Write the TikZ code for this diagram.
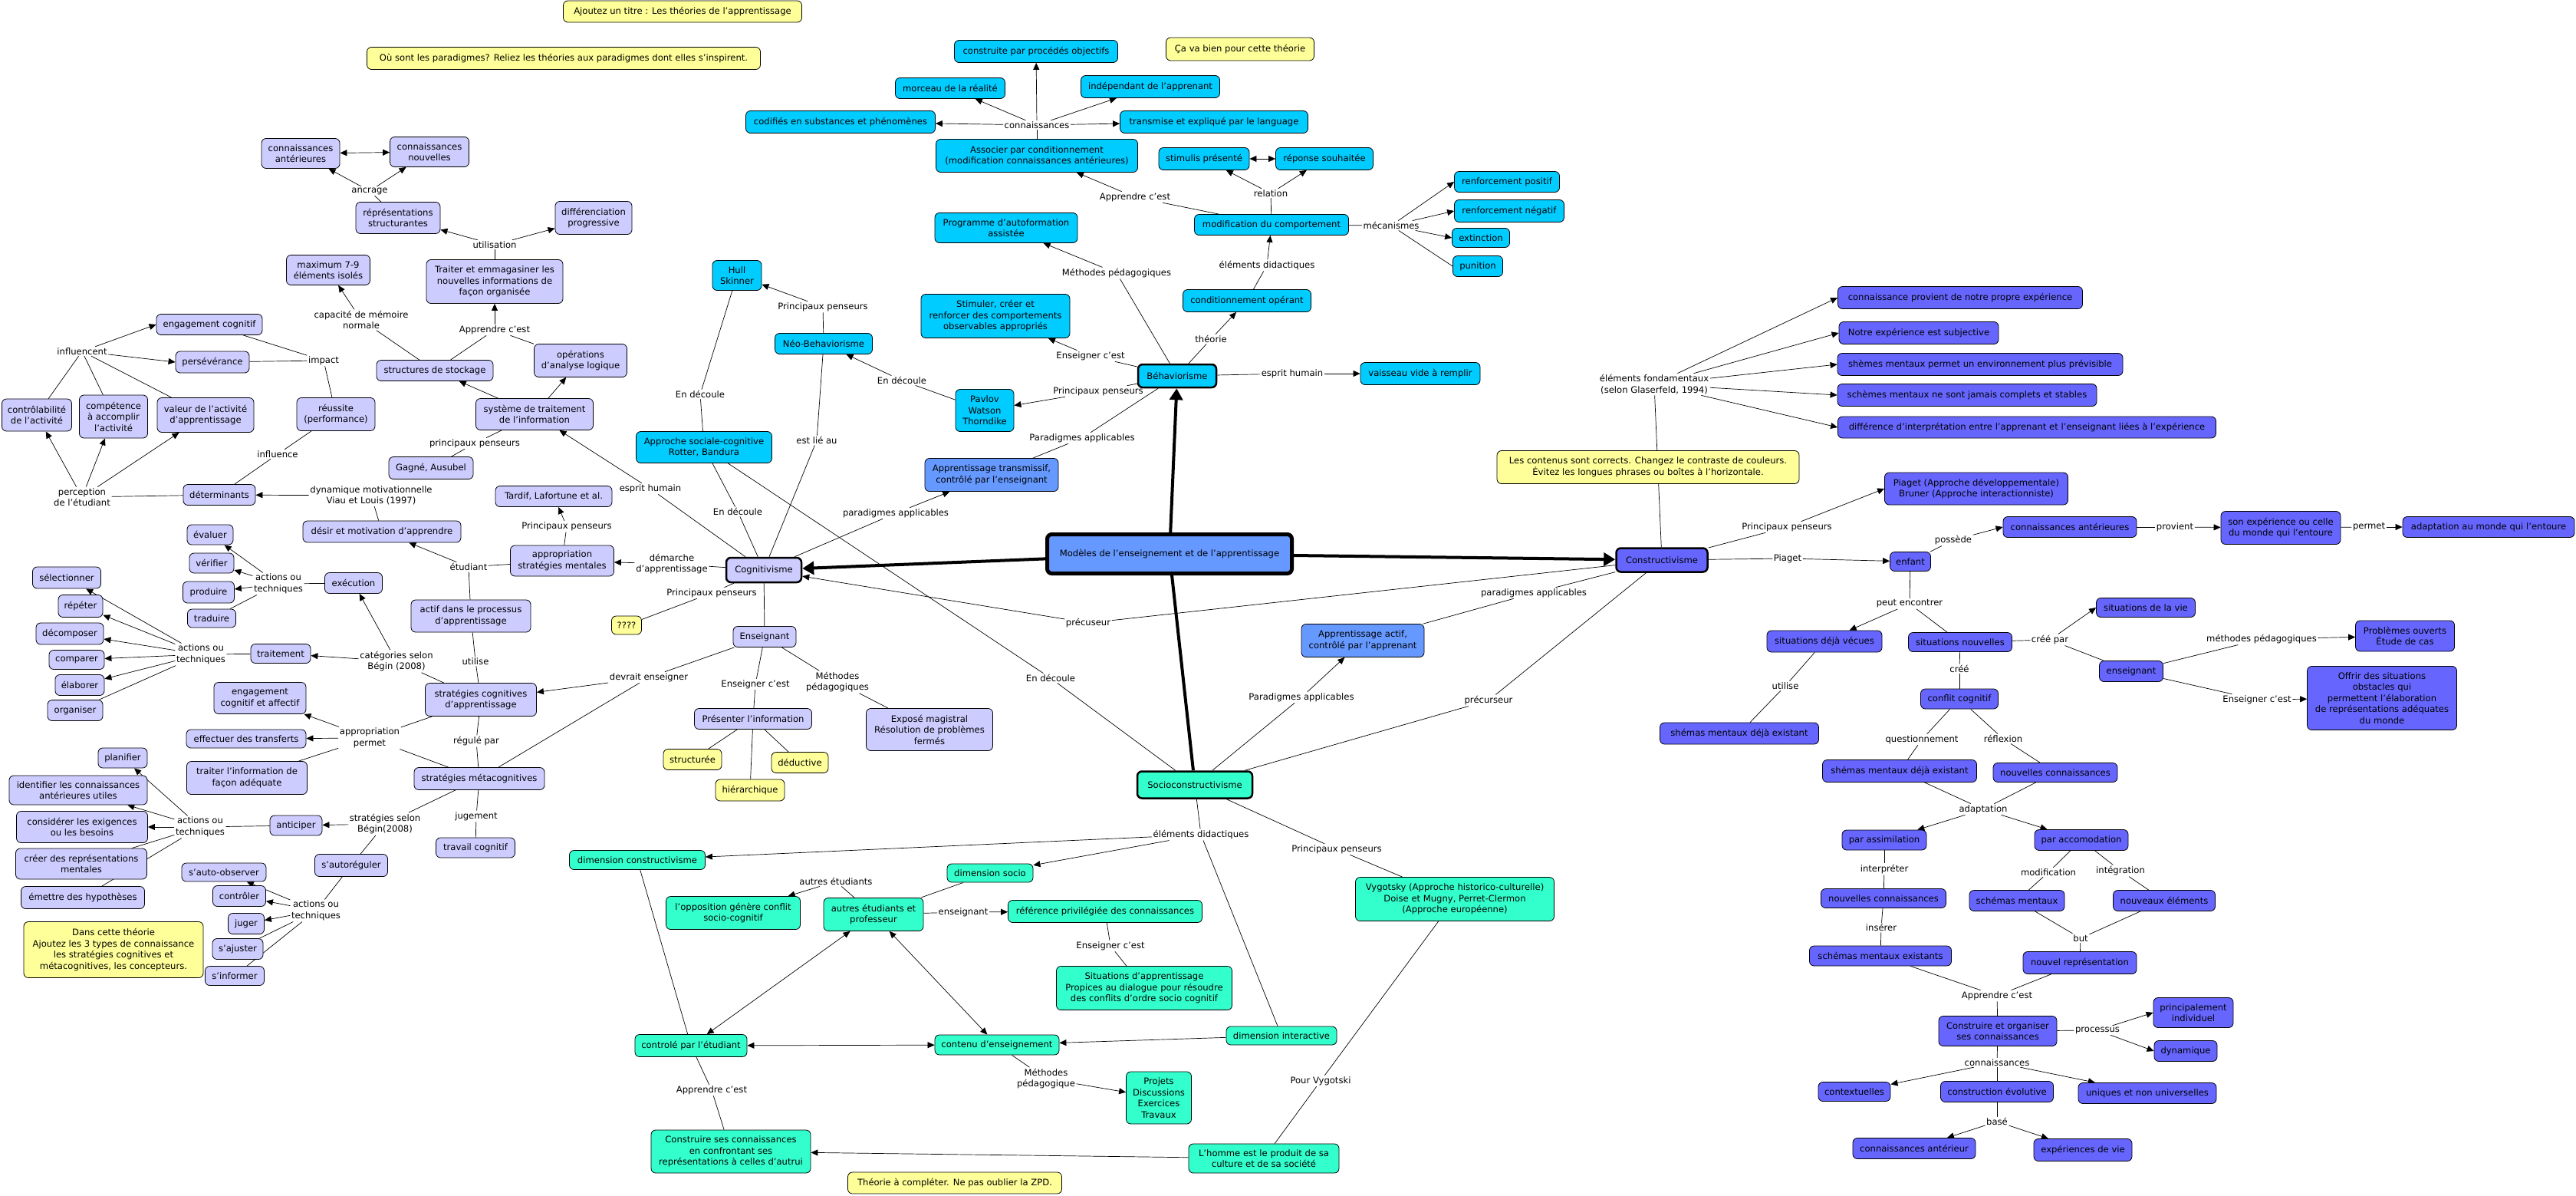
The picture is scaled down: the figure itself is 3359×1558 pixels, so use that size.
\documentclass[tikz,border=0pt]{standalone}
\usepackage{fontspec}
\setmainfont{DejaVu Sans}
\usetikzlibrary{arrows.meta}
\definecolor{cogc}{RGB}{204,204,255}
\definecolor{behc}{RGB}{0,204,255}
\definecolor{conc}{RGB}{102,102,255}
\definecolor{socc}{RGB}{51,255,204}
\definecolor{parc}{RGB}{102,153,255}
\definecolor{notec}{RGB}{255,255,153}
\pgfdeclarelayer{bg}
\pgfsetlayers{bg,main}
\newcommand\fs{\fontsize{11.6}{14.5}\selectfont}
\tikzset{
  cbox/.style={draw=black, line width=0.8pt, rounded corners=6pt, align=center, inner xsep=3pt, inner ysep=2pt, font=\fs, text=black},
  cog/.style={cbox, fill=cogc},
  beh/.style={cbox, fill=behc},
  con/.style={cbox, fill=conc},
  soc/.style={cbox, fill=socc},
  par/.style={cbox, fill=parc},
  yel/.style={cbox, fill=notec},
  thk/.style={line width=2.5pt},
  lbs/.style={font=\fs, inner sep=1.5pt, align=center, text=black},
  lk/.style={line width=0.7pt, draw=black},
  ak/.style={lk, -{Triangle[length=9pt,width=8pt]}},
  dk/.style={lk, {Triangle[length=9pt,width=8pt]}-{Triangle[length=9pt,width=8pt]}},
  bigar/.style={line width=4pt, draw=black, -{Triangle[length=15pt,width=17pt]}},
  bigln/.style={line width=4pt, draw=black},
}
\newcommand\bx[6]{\node[#1,minimum width=#5pt,minimum height=#6pt] (#2) at (#3) {#4};}
\newcommand\lab[3]{\node[lbs] (#1) at (#2) {#3};}
\begin{document}
\begin{tikzpicture}[x=1pt,y=-1pt]
\useasboundingbox (0,0) rectangle (3359,1558);
% ---------- notes ----------
\bx{yel}{n1}{890,15}{Ajoutez un titre : Les théories de l'apprentissage}{311}{28}
\bx{yel}{n2}{735,76}{Où sont les paradigmes? Reliez les théories aux paradigmes dont elles s'inspirent.}{513}{29}
\bx{yel}{n3}{1617,64}{Ça va bien pour cette théorie}{193}{30}
\bx{yel}{n4}{2149,609}{Les contenus sont corrects. Changez le contraste de couleurs.\\Évitez les longues phrases ou boîtes à l'horizontale.}{394}{43}
\bx{yel}{n5}{148,1238}{Dans cette théorie\\Ajoutez les 3 types de connaissance\\les stratégies cognitives et\\métacognitives, les concepteurs.}{234}{73}
\bx{yel}{n6}{1245,1542}{Théorie à compléter. Ne pas oublier la ZPD.}{279}{28}
\bx{yel}{n7}{817,815}{????}{39}{24}
\bx{yel}{nstr}{903,990}{structurée}{76}{27}
\bx{yel}{nded}{1043,994}{déductive}{74}{27}
\bx{yel}{nhie}{978,1030}{hiérarchique}{90}{28}
% ---------- main ----------
\bx{par,line width=5pt}{M}{1525,722}{Modèles de l'enseignement et de l'apprentissage}{319}{51}
\bx{par}{ptrans}{1293,619}{Apprentissage transmissif,\\contrôlé par l'enseignant}{174}{43}
\bx{par}{pactif}{1777,835}{Apprentissage actif,\\contrôlé par l'apprenant}{160}{43}
% ---------- behaviorisme ----------
\bx{beh,thk}{B}{1535,490}{Béhaviorisme}{102}{30}
\bx{beh}{bconstr}{1351,67}{construite par procédés objectifs}{213}{29}
\bx{beh}{bmorc}{1239,115}{morceau de la réalité}{143}{27}
\bx{beh}{bindep}{1500,113}{indépendant de l'apprenant}{181}{29}
\bx{beh}{bcodif}{1096,159}{codifiés en substances et phénomènes}{247}{29}
\bx{beh}{btrans}{1583,159}{transmise et expliqué par le language}{245}{29}
\bx{beh}{bassoc}{1352,203}{Associer par conditionnement\\(modification connaissances antérieures)}{263}{43}
\bx{beh}{bstim}{1570,207}{stimulis présenté}{118}{29}
\bx{beh}{brep}{1727,207}{réponse souhaitée}{127}{29}
\bx{beh}{bprog}{1312,297}{Programme d'autoformation\\assistée}{186}{39}
\bx{beh}{bmodif}{1658,293}{modification du comportement}{201}{27}
\bx{beh}{brpos}{1965,237}{renforcement positif}{137}{27}
\bx{beh}{brneg}{1968,275}{renforcement négatif}{143}{29}
\bx{beh}{bext}{1931,310}{extinction}{75}{25}
\bx{beh}{bpun}{1927,347}{punition}{65}{27}
\bx{beh}{bhull}{961,359}{Hull\\Skinner}{64}{39}
\bx{beh}{bcond}{1626,392}{conditionnement opérant}{167}{29}
\bx{beh}{bstimul}{1298,412}{Stimuler, créer et\\renforcer des comportements\\observables appropriés}{194}{57}
\bx{beh}{bneo}{1074,448}{Néo-Behaviorisme}{127}{27}
\bx{beh}{bvais}{1852,487}{vaisseau vide à remplir}{156}{29}
\bx{beh}{bpav}{1284,535}{Pavlov\\Watson\\Thorndike}{76}{55}
\bx{beh}{bappr}{918,583}{Approche sociale-cognitive\\Rotter, Bandura}{177}{41}
\lab{lconn}{1352,163}{connaissances}
\lab{lrel}{1657,252}{relation}
\lab{lappb}{1480,257}{Apprendre c'est}
\lab{lmec}{1814,294}{mécanismes}
\lab{lmethb}{1456,356}{Méthodes pédagogiques}
\lab{leldid}{1652,346}{éléments didactiques}
\lab{lppneo}{1073,400}{Principaux penseurs}
\lab{ltheor}{1579,442}{théorie}
\lab{lensb}{1422,464}{Enseigner c'est}
\lab{lesphb}{1685,487}{esprit humain}
\lab{ledneo}{1176,496}{En découle}
\lab{ledhull}{913,514}{En découle}
\lab{lppb}{1432,510}{Principaux penseurs}
\lab{lparb}{1411,571}{Paradigmes applicables}
% ---------- cognitivisme ----------
\bx{cog,thk}{C}{996,743}{Cognitivisme}{98}{32}
\bx{cog}{cca}{392,200}{connaissances\\antérieures}{102}{39}
\bx{cog}{ccn}{560,198}{connaissances\\nouvelles}{103}{39}
\bx{cog}{crs}{519,284}{réprésentations\\structurantes}{110}{41}
\bx{cog}{cdp}{774,284}{différenciation\\progressive}{100}{43}
\bx{cog}{ctr}{645,367}{Traiter et emmagasiner les\\nouvelles informations de\\façon organisée}{178}{57}
\bx{cog}{cmax}{428,352}{maximum 7-9\\éléments isolés}{109}{39}
\bx{cog}{ceng}{273,423}{engagement cognitif}{138}{27}
\bx{cog}{cpers}{277,472}{persévérance}{96}{28}
\bx{cog}{cstock}{567,483}{structures de stockage}{152}{27}
\bx{cog}{coper}{757,470}{opérations\\d'analyse logique}{121}{43}
\bx{cog}{cctrl}{48,541}{contrôlabilité\\de l'activité}{91}{42}
\bx{cog}{ccomp}{148,543}{compétence\\à accomplir\\l'activité}{89}{56}
\bx{cog}{cval}{268,541}{valeur de l'activité\\d'apprentissage}{126}{45}
\bx{cog}{creus}{438,540}{réussite\\(performance)}{102}{43}
\bx{cog}{csys}{697,540}{système de traitement\\de l'information}{153}{41}
\bx{cog}{cgag}{562,610}{Gagné, Ausubel}{110}{29}
\bx{cog}{cdet}{286,645}{déterminants}{94}{27}
\bx{cog}{ctard}{722,647}{Tardif, Lafortune et al.}{152}{27}
\bx{cog}{cdes}{498,693}{désir et motivation d'apprendre}{206}{28}
\bx{cog}{ceval}{274,697}{évaluer}{60}{26}
\bx{cog}{cappr}{733,731}{appropriation\\stratégies mentales}{135}{40}
\bx{cog}{cver}{276,734}{vérifier}{58}{26}
\bx{cog}{csel}{87,753}{sélectionner}{89}{28}
\bx{cog}{cexec}{461,760}{exécution}{75}{27}
\bx{cog}{cprod}{272,772}{produire}{67}{28}
\bx{cog}{crep}{105,790}{répéter}{58}{29}
\bx{cog}{cactif}{614,803}{actif dans le processus\\d'apprentissage}{156}{42}
\bx{cog}{ctrad}{276,806}{traduire}{63}{24}
\bx{cog}{cdec}{91,826}{décomposer}{88}{28}
\bx{cog}{ctrait}{366,852}{traitement}{78}{25}
\bx{cog}{ccmp}{100,860}{comparer}{72}{25}
\bx{cog}{celab}{104,893}{élaborer}{64}{27}
\bx{cog}{cengaf}{339,910}{engagement\\cognitif et affectif}{120}{41}
\bx{cog}{cstrc}{627,912}{stratégies cognitives\\d'apprentissage}{145}{43}
\bx{cog}{corg}{98,926}{organiser}{72}{27}
\bx{cog}{ceff}{321,963}{effectuer des transferts}{156}{24}
\bx{cog}{cplan}{160,988}{planifier}{64}{26}
\bx{cog}{ctrinf}{322,1014}{traiter l'information de\\façon adéquate}{157}{43}
\bx{cog}{cstrm}{625,1015}{stratégies métacognitives}{170}{29}
\bx{cog}{cident}{102,1030}{identifier les connaissances\\antérieures utiles}{180}{38}
\bx{cog}{ccons}{107,1078}{considérer les exigences\\ou les besoins}{171}{41}
\bx{cog}{canti}{386,1076}{anticiper}{68}{26}
\bx{cog}{ctrav}{620,1105}{travail cognitif}{103}{26}
\bx{cog}{ccrer}{106,1126}{créer des représentations\\mentales}{171}{40}
\bx{cog}{cautor}{458,1128}{s'autoréguler}{95}{29}
\bx{cog}{cobs}{292,1137}{s'auto-observer}{110}{24}
\bx{cog}{cemet}{108,1170}{émettre des hypothèses}{161}{29}
\bx{cog}{cctl}{312,1168}{contrôler}{69}{27}
\bx{cog}{cjug}{321,1204}{juger}{47}{27}
\bx{cog}{caj}{310,1237}{s'ajuster}{66}{27}
\bx{cog}{cinf}{306,1272}{s'informer}{77}{25}
\bx{cog}{cens}{997,830}{Enseignant}{82}{27}
\bx{cog}{cpres}{982,937}{Présenter l'information}{153}{27}
\bx{cog}{cexpo}{1212,951}{Exposé magistral\\Résolution de problèmes\\fermés}{165}{55}
\lab{lancr}{482,249}{ancrage}
\lab{lutil}{645,319}{utilisation}
\lab{lcapa}{471,417}{capacité de mémoire\\normale}
\lab{lappc}{645,430}{Apprendre c'est}
\lab{linfl}{107,458}{influencent}
\lab{limp}{422,470}{impact}
\lab{linflu}{362,592}{influence}
\lab{lppc}{619,578}{principaux penseurs}
\lab{lestlie}{1065,574}{est lié au}
\lab{lperc}{107,648}{perception\\de l'étudiant}
\lab{ldyn}{484,646}{dynamique motivationnelle\\Viau et Louis (1997)}
\lab{lesphc}{848,637}{esprit humain}
\lab{ledc}{962,667}{En découle}
\lab{lparc}{1168,669}{paradigmes applicables}
\lab{lppt}{739,686}{Principaux penseurs}
\lab{letud}{611,739}{étudiant}
\lab{ldem}{876,735}{démarche\\d'apprentissage}
\lab{lppq}{928,773}{Principaux penseurs}
\lab{lact1}{363,761}{actions ou\\techniques}
\lab{lact2}{262,853}{actions ou\\techniques}
\lab{lcat}{517,862}{catégories selon\\Bégin  (2008)}
\lab{lutilise}{620,862}{utilise}
\lab{ldev}{846,883}{devrait enseigner}
\lab{ledsoc}{1370,884}{En découle}
\lab{lmethc}{1092,889}{Méthodes\\pédagogiques}
\lab{lensc}{985,892}{Enseigner c'est}
\lab{lappp}{482,962}{appropriation\\permet}
\lab{lreg}{621,966}{régulé par}
\lab{ljug}{621,1064}{jugement}
\lab{lstrat}{502,1074}{stratégies selon\\Bégin(2008)}
\lab{lact3}{261,1078}{actions ou\\techniques}
\lab{lact4}{412,1187}{actions ou\\techniques}
% ---------- constructivisme ----------
\bx{con,thk}{K}{2167,730}{Constructivisme}{119}{31}
\bx{con}{kprov}{2556,388}{connaissance provient de notre propre expérience}{319}{29}
\bx{con}{ksubj}{2502,434}{Notre expérience est subjective}{208}{29}
\bx{con}{kprev}{2582,475}{shèmes mentaux permet un environnement plus prévisible}{372}{29}
\bx{con}{kstab}{2565,515}{schèmes mentaux ne sont jamais complets et stables}{338}{29}
\bx{con}{kdiff}{2643,557}{différence d'interprétation entre l'apprenant et l'enseignant liées à l'expérience}{493}{28}
\bx{con}{kpiag}{2577,637}{Piaget (Approche développementale)\\Bruner (Approche interactionniste)}{239}{42}
\bx{con}{kenf}{2491,732}{enfant}{53}{25}
\bx{con}{kcant}{2699,687}{connaissances antérieures}{174}{27}
\bx{con}{ksonexp}{2974,688}{son expérience ou celle\\du monde qui l'entoure}{156}{43}
\bx{con}{kadapt}{3245,687}{adaptation au monde qui l'entoure}{224}{27}
\bx{con}{kvie}{2798,792}{situations de la vie}{129}{25}
\bx{con}{kprob}{3136,829}{Problèmes ouverts\\Étude de cas}{129}{40}
\bx{con}{kvec}{2379,836}{situations déjà vécues}{150}{28}
\bx{con}{knouv}{2556,837}{situations nouvelles}{135}{25}
\bx{con}{kens}{2779,875}{enseignant}{83}{27}
\bx{con}{koffr}{3106,910}{Offrir des situations\\obstacles qui\\permettent l'élaboration\\de représentations adéquates\\du monde}{195}{83}
\bx{con}{kconfl}{2555,911}{conflit cognitif}{101}{26}
\bx{con}{kshem1}{2268,956}{shémas mentaux déjà existant}{207}{28}
\bx{con}{kshem2}{2477,1005}{shémas mentaux déjà existant}{201}{29}
\bx{con}{knc}{2680,1007}{nouvelles connaissances}{162}{25}
\bx{con}{kassim}{2457,1095}{par assimilation}{110}{26}
\bx{con}{kaccom}{2714,1095}{par accomodation}{122}{27}
\bx{con}{knc2}{2456,1171}{nouvelles connaissances}{163}{25}
\bx{con}{ksm}{2630,1174}{schémas mentaux}{124}{27}
\bx{con}{kne}{2822,1174}{nouveaux éléments}{133}{27}
\bx{con}{ksme}{2452,1246}{schémas mentaux existants}{185}{26}
\bx{con}{knrep}{2712,1255}{nouvel représentation}{148}{29}
\bx{con}{kconstr}{2605,1344}{Construire et organiser\\ses connaissances}{154}{39}
\bx{con}{kindiv}{2860,1320}{principalement\\individuel}{104}{39}
\bx{con}{kdyn}{2850,1370}{dynamique}{82}{27}
\bx{con}{kctx}{2418,1423}{contextuelles}{94}{25}
\bx{con}{kevol}{2604,1423}{construction évolutive}{147}{27}
\bx{con}{kuniq}{2800,1425}{uniques et non universelles}{180}{27}
\bx{con}{kcantr}{2496,1497}{connaissances antérieur}{160}{27}
\bx{con}{kexp}{2716,1499}{expériences de vie}{128}{29}
\lab{lelf}{2157,501}{éléments fondamentaux\\(selon Glaserfeld, 1994)}
\lab{lppk}{2330,687}{Principaux penseurs}
\lab{lpiag}{2331,728}{Piaget}
\lab{lposse}{2547,704}{possède}
\lab{lprov}{2836,687}{provient}
\lab{lperm}{3089,687}{permet}
\lab{lpark}{2000,773}{paradigmes applicables}
\lab{lpeut}{2490,787}{peut encontrer}
\lab{lprec}{1419,812}{précuseur}
\lab{lcreepar}{2673,834}{créé par}
\lab{lmethk}{2949,833}{méthodes pédagogiques}
\lab{lcree}{2555,872}{créé}
\lab{lutilk}{2328,894}{utilise}
\lab{lparas}{1697,909}{Paradigmes applicables}
\lab{lensk}{2943,912}{Enseigner c'est}
\lab{lprecur}{1941,913}{précurseur}
\lab{lquest}{2506,964}{questionnement}
\lab{lrefl}{2612,963}{réflexion}
\lab{ladap}{2586,1055}{adaptation}
\lab{linterp}{2457,1133}{interpréter}
\lab{lmodif}{2671,1137}{modification}
\lab{linteg}{2765,1135}{intégration}
\lab{lins}{2453,1209}{insérer}
\lab{lbut}{2713,1223}{but}
\lab{lappk}{2604,1298}{Apprendre c'est}
\lab{lproc}{2735,1343}{processus}
\lab{lconnk}{2604,1385}{connaissances}
\lab{lbase}{2604,1462}{basé}
% ---------- socioconstructivisme ----------
\bx{soc,thk}{S}{1558,1023}{Socioconstructivisme}{150}{35}
\bx{soc}{sdimc}{831,1121}{dimension constructivisme}{177}{25}
\bx{soc}{sdims}{1291,1138}{dimension socio}{112}{24}
\bx{soc}{sopp}{956,1190}{l'opposition génère conflit\\socio-cognitif}{175}{43}
\bx{soc}{sautres}{1139,1192}{autres étudiants et\\professeur}{130}{43}
\bx{soc}{sref}{1441,1188}{référence privilégiée des connaissances}{253}{29}
\bx{soc}{svyg}{1897,1172}{Vygotsky (Approche historico-culturelle)\\Doise et Mugny, Perret-Clermon\\(Approche européenne)}{259}{57}
\bx{soc}{ssit}{1492,1288}{Situations d'apprentissage\\Propices au dialogue pour résoudre\\des conflits d'ordre socio cognitif}{229}{57}
\bx{soc}{sdimi}{1671,1350}{dimension interactive}{144}{24}
\bx{soc}{sctrl}{901,1363}{controlé par l'étudiant}{146}{29}
\bx{soc}{scont}{1300,1362}{contenu d'enseignement}{162}{26}
\bx{soc}{sproj}{1511,1431}{Projets\\Discussions\\Exercices\\Travaux}{85}{68}
\bx{soc}{sconstr}{953,1501}{Construire ses connaissances\\en confrontant ses\\représentations à celles d'autrui}{208}{56}
\bx{soc}{shomme}{1648,1510}{L'homme est le produit de sa\\culture et de sa société}{196}{38}
\lab{lelds}{1566,1088}{éléments didactiques}
\lab{lpps}{1743,1107}{Principaux penseurs}
\lab{lautr}{1090,1149}{autres étudiants}
\lab{lenss}{1256,1189}{enseignant}
\lab{lensc2}{1448,1233}{Enseigner c'est}
\lab{lmeths}{1364,1406}{Méthodes\\pédagogique}
\lab{lpourv}{1722,1409}{Pour Vygotski}
\lab{lapps}{928,1421}{Apprendre  c'est}
% ================= connectors =================
\begin{pgfonlayer}{bg}
\fill[white] (0,0) rectangle (3359,1558);
% main
\draw[bigar] (M) -- (C);
\draw[bigar] (M) -- (B);
\draw[bigar] (M) -- (K);
\draw[bigln] (M) -- (S);
% behaviorisme
\draw[lk] (B) -- (lensb); \draw[ak] (lensb) -- (bstimul);
\draw[lk] (B) -- (lmethb); \draw[ak] (lmethb) -- (bprog);
\draw[lk] (B) -- (ltheor); \draw[ak] (ltheor) -- (bcond);
\draw[lk] (bcond) -- (leldid); \draw[ak] (leldid) -- (bmodif);
\draw[lk] (bmodif) -- (lappb); \draw[ak] (lappb) -- (bassoc);
\draw[lk] (bmodif) -- (lrel); \draw[ak] (lrel) -- (bstim); \draw[ak] (lrel) -- (brep);
\draw[dk] (bstim) -- (brep);
\draw[lk] (bmodif) -- (lmec); \draw[ak] (lmec) -- (brpos.west); \draw[ak] (lmec) -- (brneg.west); \draw[ak] (lmec) -- (bext.west); \draw[lk] (lmec) -- (bpun.west);
\draw[lk] (bassoc) -- (lconn); \draw[ak] (lconn) -- (bconstr); \draw[ak] (lconn) -- (bmorc); \draw[ak] (lconn) -- (bindep); \draw[ak] (lconn) -- (bcodif); \draw[ak] (lconn) -- (btrans);
\draw[lk] (B) -- (lesphb); \draw[ak] (lesphb) -- (bvais);
\draw[lk] (B) -- (lppb); \draw[ak] (lppb) -- (bpav);
\draw[lk] (B) -- (lparb); \draw[lk] (lparb) -- (ptrans);
\draw[lk] (bpav) -- (ledneo); \draw[ak] (ledneo) -- (bneo);
\draw[lk] (bneo) -- (lppneo); \draw[ak] (lppneo) -- (bhull);
\draw[lk] (bneo) -- (lestlie); \draw[lk] (lestlie) -- (C);
\draw[lk] (bhull) -- (ledhull); \draw[lk] (ledhull) -- (bappr);
\draw[lk] (bappr) -- (ledc); \draw[lk] (ledc) -- (C);
\draw[lk] (bappr) -- (ledsoc); \draw[lk] (ledsoc) -- (S);
% cognitivisme
\draw[lk] (C) -- (lparc); \draw[ak] (lparc) -- (ptrans);
\draw[lk] (C) -- (lesphc); \draw[ak] (lesphc) -- (csys);
\draw[lk] (C) -- (ldem); \draw[ak] (ldem) -- (cappr);
\draw[lk] (C) -- (lppq); \draw[lk] (lppq) -- (n7);
\draw[lk] (C) -- (cens);
\draw[lk] (cens) -- (ldev); \draw[ak] (ldev) -- (cstrc); \draw[lk] (ldev) -- (cstrm);
\draw[lk] (cens) -- (lensc); \draw[lk] (lensc) -- (cpres);
\draw[lk] (cens) -- (lmethc); \draw[lk] (lmethc) -- (cexpo);
\draw[lk] (cpres) -- (nstr); \draw[lk] (cpres) -- (nhie); \draw[lk] (cpres) -- (nded);
\draw[ak] (csys) -- (cstock); \draw[ak] (csys) -- (coper);
\draw[lk] (cstock) -- (lappc); \draw[lk] (coper) -- (lappc); \draw[ak] (lappc) -- (ctr);
\draw[lk] (cstock) -- (lcapa); \draw[ak] (lcapa) -- (cmax);
\draw[lk] (ctr) -- (lutil); \draw[ak] (lutil) -- (crs); \draw[ak] (lutil) -- (cdp);
\draw[lk] (crs) -- (lancr); \draw[ak] (lancr) -- (cca); \draw[ak] (lancr) -- (ccn);
\draw[dk] (cca) -- (ccn);
\draw[lk] (csys) -- (lppc); \draw[lk] (lppc) -- (cgag);
\draw[lk] (cappr) -- (lppt); \draw[ak] (lppt) -- (ctard);
\draw[lk] (cappr) -- (letud); \draw[ak] (letud) -- (cdes); \draw[lk] (letud) -- (cactif);
\draw[lk] (cdes) -- (ldyn); \draw[ak] (ldyn) -- (cdet);
\draw[lk] (cdet) -- (linflu); \draw[lk] (linflu) -- (creus);
\draw[lk] (cdet) -- (lperc); \draw[ak] (lperc) -- (cctrl); \draw[ak] (lperc) -- (ccomp); \draw[ak] (lperc) -- (cval);
\draw[lk] (cctrl) -- (linfl); \draw[lk] (ccomp) -- (linfl); \draw[lk] (cval) -- (linfl);
\draw[ak] (linfl) -- (ceng.west); \draw[ak] (linfl) -- (cpers.west);
\draw[lk] (ceng) -- (limp); \draw[lk] (cpers) -- (limp); \draw[lk] (limp) -- (creus);
\draw[lk] (cactif) -- (lutilise); \draw[lk] (lutilise) -- (cstrc);
\draw[lk] (cstrc) -- (lcat); \draw[ak] (lcat) -- (cexec); \draw[ak] (lcat) -- (ctrait);
\draw[lk] (cexec) -- (lact1); \draw[ak] (lact1) -- (ceval); \draw[ak] (lact1) -- (cver); \draw[ak] (lact1) -- (cprod); \draw[lk] (lact1) -- (ctrad);
\draw[lk] (ctrait) -- (lact2); \draw[ak] (lact2) -- (csel); \draw[ak] (lact2) -- (crep); \draw[ak] (lact2) -- (cdec); \draw[ak] (lact2) -- (ccmp); \draw[ak] (lact2) -- (celab); \draw[lk] (lact2) -- (corg);
\draw[lk] (cstrc) -- (lappp); \draw[lk] (cstrm) -- (lappp); \draw[ak] (lappp) -- (cengaf); \draw[ak] (lappp) -- (ceff); \draw[lk] (lappp) -- (ctrinf);
\draw[lk] (cstrc) -- (lreg); \draw[lk] (lreg) -- (cstrm);
\draw[lk] (cstrm) -- (ljug); \draw[lk] (ljug) -- (ctrav);
\draw[lk] (cstrm) -- (lstrat); \draw[ak] (lstrat) -- (canti); \draw[lk] (lstrat) -- (cautor);
\draw[lk] (canti) -- (lact3); \draw[ak] (lact3) -- (cplan); \draw[ak] (lact3) -- (cident); \draw[ak] (lact3) -- (ccons); \draw[lk] (lact3) -- (ccrer); \draw[lk] (lact3) -- (cemet);
\draw[lk] (cautor) -- (lact4); \draw[ak] (lact4) -- (cobs); \draw[ak] (lact4) -- (cctl); \draw[ak] (lact4) -- (cjug); \draw[lk] (lact4) -- (caj); \draw[lk] (lact4) -- (cinf);
% constructivisme
\draw[lk] (K) -- (lelf);
\draw[ak] (lelf) -- (kprov.west); \draw[ak] (lelf) -- (ksubj.west); \draw[ak] (lelf) -- (kprev.west); \draw[ak] (lelf) -- (kstab.west); \draw[ak] (lelf) -- (kdiff.west);
\draw[lk] (K) -- (lppk); \draw[ak] (lppk) -- (kpiag.west);
\draw[lk] (K) -- (lpiag); \draw[ak] (lpiag) -- (kenf);
\draw[lk] (K) -- (lprec); \draw[ak] (lprec) -- (C);
\draw[lk] (K) -- (lpark); \draw[lk] (lpark) -- (pactif);
\draw[lk] (K) -- (lprecur); \draw[lk] (lprecur) -- (S);
\draw[lk] (S) -- (lparas); \draw[ak] (lparas) -- (pactif);
\draw[lk] (kenf) -- (lposse); \draw[ak] (lposse) -- (kcant.west);
\draw[lk] (kcant) -- (lprov); \draw[ak] (lprov) -- (ksonexp);
\draw[lk] (ksonexp) -- (lperm); \draw[ak] (lperm) -- (kadapt);
\draw[lk] (kenf) -- (lpeut); \draw[ak] (lpeut) -- (kvec); \draw[lk] (lpeut) -- (knouv);
\draw[lk] (kvec) -- (lutilk); \draw[lk] (lutilk) -- (kshem1);
\draw[lk] (knouv) -- (lcreepar); \draw[ak] (lcreepar) -- (kvie.west); \draw[lk] (lcreepar) -- (kens);
\draw[lk] (kens) -- (lmethk); \draw[ak] (lmethk) -- (kprob);
\draw[lk] (kens) -- (lensk); \draw[ak] (lensk) -- (koffr);
\draw[lk] (knouv) -- (lcree); \draw[lk] (lcree) -- (kconfl);
\draw[lk] (kconfl) -- (lquest); \draw[lk] (lquest) -- (kshem2);
\draw[lk] (kconfl) -- (lrefl); \draw[lk] (lrefl) -- (knc);
\draw[lk] (kshem2) -- (ladap); \draw[lk] (knc) -- (ladap); \draw[ak] (ladap) -- (kassim); \draw[ak] (ladap) -- (kaccom);
\draw[lk] (kassim) -- (linterp); \draw[lk] (linterp) -- (knc2);
\draw[lk] (knc2) -- (lins); \draw[lk] (lins) -- (ksme);
\draw[lk] (kaccom) -- (lmodif); \draw[lk] (lmodif) -- (ksm);
\draw[lk] (kaccom) -- (linteg); \draw[lk] (linteg) -- (kne);
\draw[lk] (ksm) -- (lbut); \draw[lk] (kne) -- (lbut); \draw[lk] (lbut) -- (knrep);
\draw[lk] (ksme) -- (lappk); \draw[lk] (knrep) -- (lappk); \draw[lk] (lappk) -- (kconstr);
\draw[lk] (kconstr) -- (lproc); \draw[ak] (lproc) -- (kindiv.west); \draw[ak] (lproc) -- (kdyn.west);
\draw[lk] (kconstr) -- (lconnk); \draw[ak] (lconnk) -- (kctx); \draw[lk] (lconnk) -- (kevol); \draw[ak] (lconnk) -- (kuniq);
\draw[lk] (kevol) -- (lbase); \draw[ak] (lbase) -- (kcantr); \draw[ak] (lbase) -- (kexp);
% socioconstructivisme
\draw[lk] (S) -- (lelds); \draw[ak] (lelds) -- (sdimc); \draw[ak] (lelds) -- (sdims); \draw[lk] (lelds) -- (sdimi);
\draw[lk] (S) -- (lpps); \draw[lk] (lpps) -- (svyg);
\draw[lk] (svyg) -- (lpourv); \draw[lk] (lpourv) -- (shomme);
\draw[ak] (shomme) -- (sconstr);
\draw[lk] (sdimc) -- (sctrl);
\draw[lk] (sctrl) -- (lapps); \draw[lk] (lapps) -- (sconstr);
\draw[lk] (sdims) -- (sautres);
\draw[lk] (sautres) -- (lautr); \draw[ak] (lautr) -- (sopp);
\draw[lk] (sautres) -- (lenss); \draw[ak] (lenss) -- (sref);
\draw[lk] (sref) -- (lensc2); \draw[lk] (lensc2) -- (ssit);
\draw[dk] (sautres) -- (sctrl); \draw[dk] (sautres) -- (scont); \draw[dk] (sctrl) -- (scont);
\draw[ak] (sdimi) -- (scont);
\draw[lk] (scont) -- (lmeths); \draw[ak] (lmeths) -- (sproj);
\end{pgfonlayer}
\end{tikzpicture}
\end{document}
